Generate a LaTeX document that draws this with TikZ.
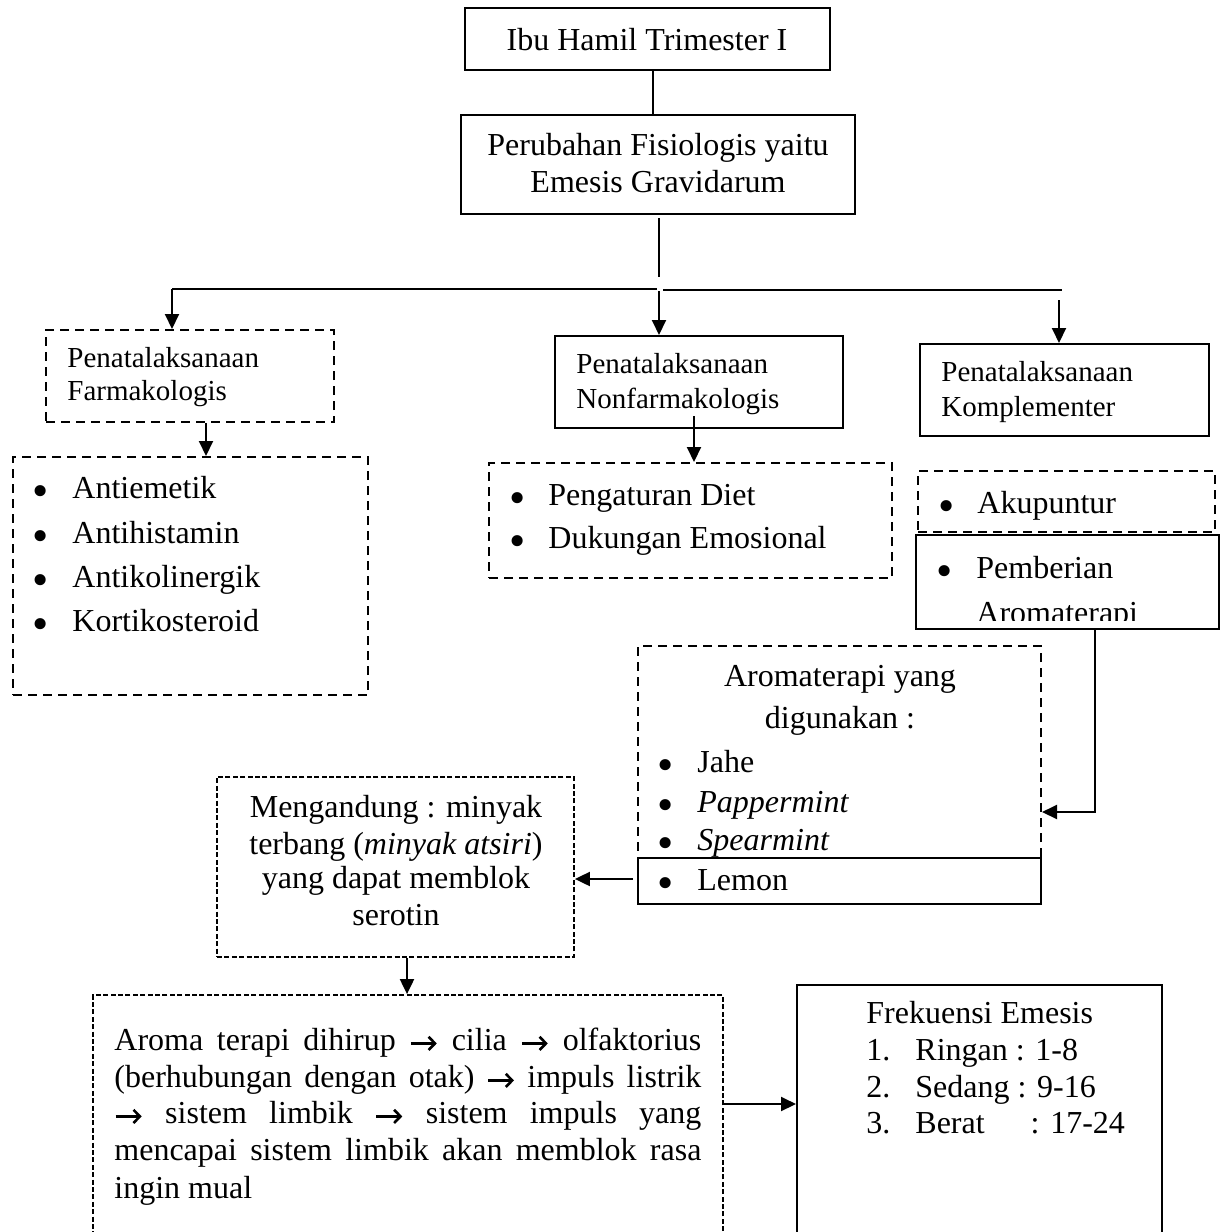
\documentclass[tikz,border=0pt]{standalone}
\usepackage{graphicx}
\usepackage{fontspec}
\setmainfont{Liberation Serif}
\usetikzlibrary{arrows.meta,fit}
\newcommand\rarrow{\tikz[baseline=0pt]\draw[line width=1.3pt,-{Straight Barb[length=3.2pt,width=6.6pt,line width=1.3pt]}] (0pt,3.3pt) -- (13pt,3.3pt);}
\newcommand\bigbullet{\raisebox{-4.2pt}{\scalebox{1.45}{\textbullet}}}
\begin{document}
\begin{tikzpicture}[x=0.5pt,y=-0.5pt,
  txt/.style={inner sep=0, anchor=base west, font=\fontsize{16}{19}\selectfont},
  stxt/.style={inner sep=0, anchor=base west, font=\fontsize{14.5}{17}\selectfont},
  ctxt/.style={inner sep=0, anchor=base, font=\fontsize{16}{19}\selectfont},
  bul/.style={inner sep=0, anchor=base, font=\fontsize{16}{19}\selectfont},
  solidbox/.style={draw, line width=1pt, inner sep=0},
  dashbox/.style={draw, line width=1pt, inner sep=0, dash pattern=on 4.5pt off 3pt},
  finebox/.style={draw, line width=0.9pt, inner sep=0, dash pattern=on 2.5pt off 1.2pt},
  conn/.style={line width=1pt},
  arr/.style={line width=1pt, -{Triangle[width=7pt,length=7.5pt]}}]
\useasboundingbox (0,0) rectangle (1224,1232);

% top boxes
\node[solidbox, fit={(465,8)(830,70)}] (b1) {};
\node[ctxt] (b1t) at (647,50) {Ibu Hamil Trimester I};
\node[solidbox, fit={(461,115)(855,214)}] (b2) {};
\node[ctxt] (b2t1) at (658,155) {Perubahan Fisiologis yaitu};
\node[ctxt] (b2t2) at (658,192) {Emesis Gravidarum};

% farmakologis
\node[dashbox, fit={(46,330)(334,422)}] (farm) {};
\node[stxt] (farmt1) at (67,367) {Penatalaksanaan};
\node[stxt] (farmt2) at (67,400) {Farmakologis};
\node[dashbox, fit={(13,457)(368,695)}] (farmlist) {};
\foreach \yy/\tt [count=\i] in {498/Antiemetik, 543/Antihistamin, 587/Antikolinergik, 631/Kortikosteroid}{
  \node[bul] (fb\i) at (41,\yy) {\bigbullet};
  \node[txt] (fi\i) at (72,\yy) {\tt};
}

% nonfarmakologis
\node[solidbox, fit={(555,336)(843,428)}] (nonfarm) {};
\node[stxt] (nft1) at (576,373) {Penatalaksanaan};
\node[stxt] (nft2) at (576,408) {Nonfarmakologis};
\node[dashbox, fit={(489,463)(892,578)}] (nflist) {};
\node[bul] (nb1) at (518,505) {\bigbullet};
\node[txt] (ni1) at (548,505) {Pengaturan Diet};
\node[bul] (nb2) at (518,548) {\bigbullet};
\node[txt] (ni2) at (548,548) {Dukungan Emosional};

% komplementer
\node[solidbox, fit={(920,344)(1209,436)}] (komp) {};
\node[stxt] (kt1) at (941,381) {Penatalaksanaan};
\node[stxt] (kt2) at (941,416) {Komplementer};
\node[dashbox, fit={(918,471)(1215,532)}] (akup) {};
\node[bul] (ab) at (947,513) {\bigbullet};
\node[txt] (at) at (977,513) {Akupuntur};
\node[solidbox, fit={(916,535)(1219,629)}] (pemb) {};
\node[bul] (pb) at (945,578) {\bigbullet};
\node[txt] (pt1) at (976,578) {Pemberian};
\begin{scope}
  \clip (916,535) rectangle (1219,620);
  \node[txt] (pt2) at (976,623) {Aromaterapi};
\end{scope}

% aromaterapi yang digunakan
\node[dashbox, fit={(638,646)(1041,904)}] (arom) {};
\node[solidbox, fit={(638,858)(1041,904)}] (lemon) {};
\node[ctxt] (art1) at (840,686) {Aromaterapi yang};
\node[ctxt] (art2) at (840,728) {digunakan :};
\foreach \yy/\tt [count=\i] in {772/Jahe, 812/\textit{Pappermint}, 850/\textit{Spearmint}, 890/Lemon}{
  \node[bul] (rb\i) at (666,\yy) {\bigbullet};
  \node[txt] (ri\i) at (697,\yy) {\tt};
}

% mengandung
\node[finebox, fit={(217,777)(574,957)}] (meng) {};
\node[ctxt] (mt1) at (396,817) {Mengandung : minyak};
\node[ctxt] (mt2) at (396,854) {terbang (\textit{minyak atsiri})};
\node[ctxt] (mt3) at (396,888) {yang dapat memblok};
\node[ctxt] (mt4) at (396,925) {serotin};

% mechanism
\node[finebox, fit={(93,995)(723,1245)}] (mech) {};
\node[txt] (mc1) at (114,1050) {\makebox[293.5pt][s]{Aroma terapi dihirup \rarrow{} cilia \rarrow{} olfaktorius}};
\node[txt] (mc2) at (114,1087) {\makebox[293.5pt][s]{(berhubungan dengan otak) \rarrow{} impuls listrik}};
\node[txt] (mc3) at (114,1123) {\makebox[293.5pt][s]{\rarrow{} sistem limbik \rarrow{} sistem impuls yang}};
\node[txt] (mc4) at (114,1160) {\makebox[293.5pt][s]{mencapai sistem limbik akan memblok rasa}};
\node[txt] (mc5) at (114,1198) {ingin mual};

% frekuensi
\node[solidbox, fit={(797,985)(1162,1245)}] (frek) {};
\node[txt] (ft0) at (866,1023) {Frekuensi Emesis};
\node[txt] (fn1) at (866,1060) {1.};
\node[txt] (ft1) at (915,1060) {Ringan : 1-8};
\node[txt] (fn2) at (866,1097) {2.};
\node[txt] (ft2) at (915,1097) {Sedang : 9-16};
\node[txt] (fn3) at (866,1133) {3.};
\node[txt] (ft3) at (915,1133) {Berat\hspace{23pt}: 17-24};

% connectors
\coordinate (xA) at (653,0);
\draw[conn] (b1.south -| xA) -- (b2.north -| xA);
\coordinate (v1) at (659,218);
\coordinate (v2) at (659,277);
\draw[conn] (v1) -- (v2);
\coordinate (hL) at (172,289);
\coordinate (hM1) at (657,289);
\coordinate (hM2) at (663,290);
\coordinate (hR) at (1062,290);
\coordinate (hM) at (659,291);
\coordinate (hK) at (1059,300);
\draw[conn] (hL) -- (hM1);
\draw[line width=0.75pt] (hM2) -- (hR);
\draw[arr] (hL) -- (farm.north -| hL);
\draw[arr] (hM) -- (nonfarm.north -| hM);
\draw[arr] (hK) -- (komp.north -| hK);

\coordinate (xF) at (206,0);
\draw[arr] (farm.south -| xF) -- (farmlist.north -| xF);
\coordinate (nfs) at (694,416);
\draw[arr] (nfs) -- (nflist.north -| nfs);

\coordinate (pa) at (1095,812);
\draw[arr] (pemb.south -| pa) |- (arom.east |- pa);

\coordinate (lm) at (633,879);
\draw[arr] (lm) -- (meng.east |- lm);

\coordinate (xM) at (407,0);
\draw[arr] (meng.south -| xM) -- (mech.north -| xM);

\coordinate (yB) at (0,1104);
\draw[arr] (mech.east |- yB) -- (frek.west |- yB);
\end{tikzpicture}
\end{document}
